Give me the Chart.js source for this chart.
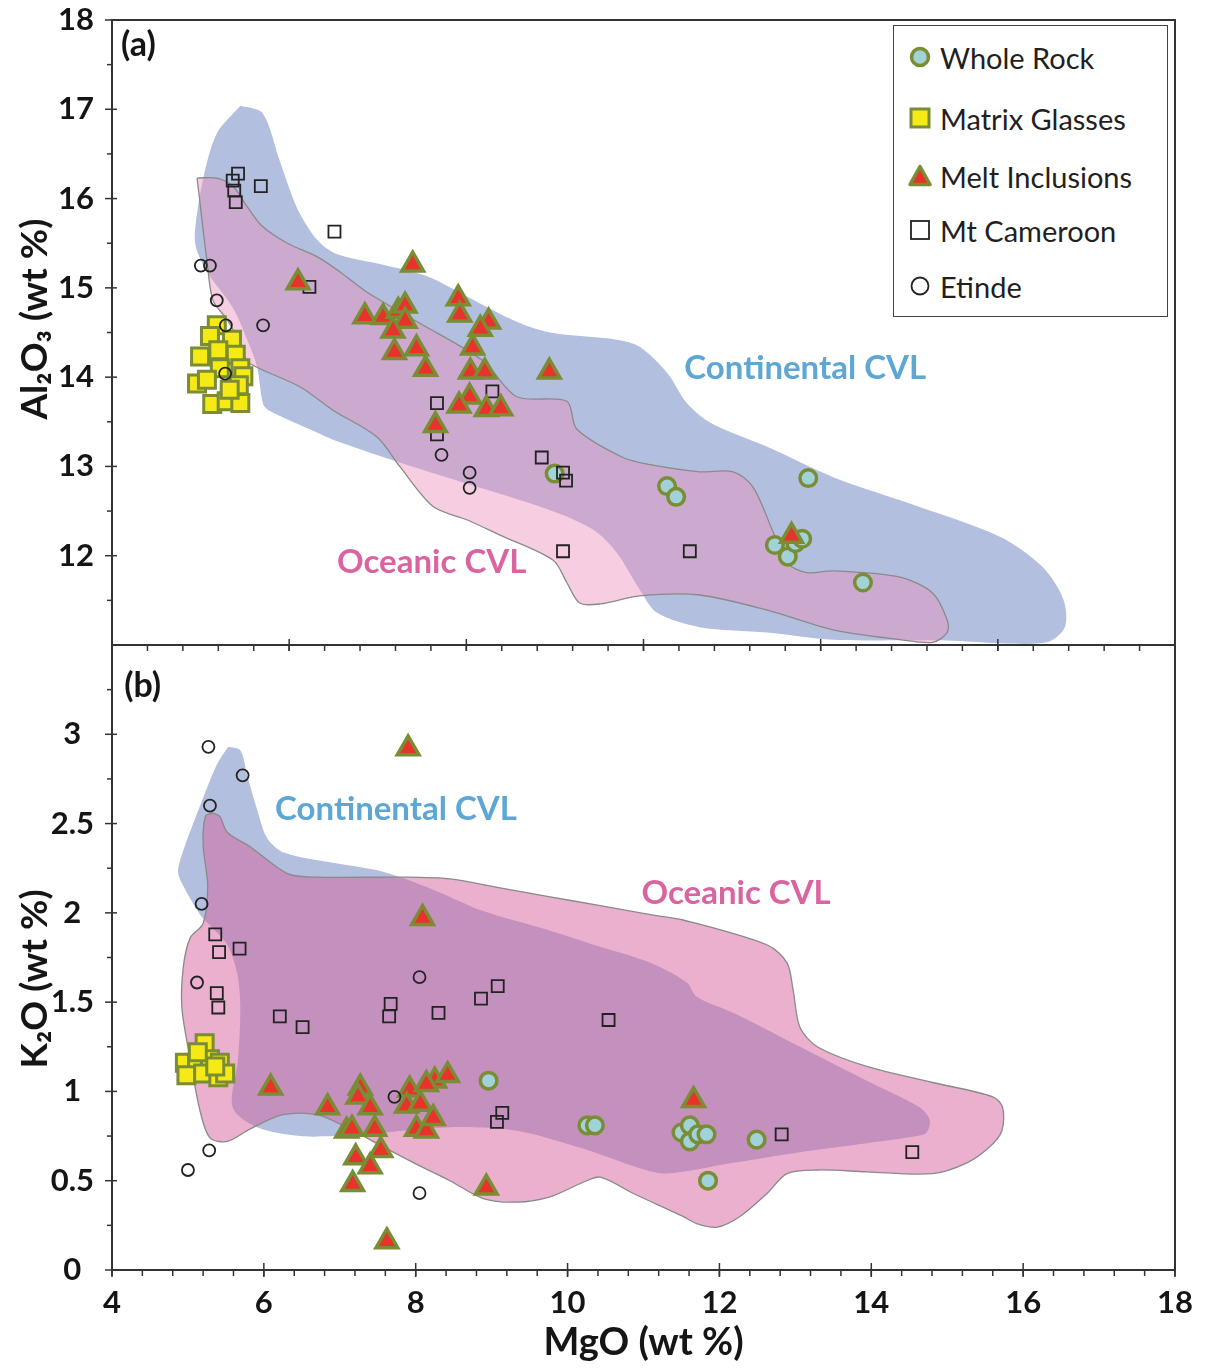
<!DOCTYPE html>
<html>
<head>
<meta charset="utf-8">
<title>MgO variation diagrams</title>
<script src="https://cdn.jsdelivr.net/npm/chart.js@4.4.1/dist/chart.umd.min.js"></script>
<style>
  body { margin: 0; background: #fff; }
  #wrap { position: relative; width: 1210px; height: 1369px; overflow: hidden; font-family: Lato, 'Open Sans', sans-serif; }
  canvas { position: absolute; left: 0; }
  #topChart { top: 0; }
  #bottomChart { top: 600px; }
  #legend { position: absolute; left: 893px; top: 25px; width: 273px; height: 290px; border: 1.5px solid #444; background: #fff; }
  .item { position: absolute; left: 0; height: 40px; display: flex; align-items: center; font-size: 29px; color: #231f20; white-space: nowrap; }
  .item svg { margin-left: 14px; margin-right: 8px; }
</style>
</head>
<body>
<div id="wrap">
  <canvas id="topChart" width="1210" height="700"></canvas>
  <canvas id="bottomChart" width="1210" height="769"></canvas>
  <div id="legend"></div>
</div>
<script>
// ---- panel (a): MgO vs Al2O3 (wt %) ----
const wholeRockA = [[9.83,12.92],[11.31,12.78],[11.43,12.66],[13.17,12.87],[12.73,12.12],[12.90,11.99],[13.00,12.14],[13.09,12.19],[13.89,11.70]];
const matrixGlassA = [[5.38,14.58],[5.29,14.46],[5.58,14.42],[5.16,14.23],[5.40,14.30],[5.63,14.25],[5.42,14.10],[5.69,14.10],[5.73,14.01],[5.12,13.93],[5.25,13.97],[5.67,13.91],[5.32,13.70],[5.51,13.73],[5.69,13.71],[5.55,13.86]];
const meltInclA = [[7.96,15.26],[6.45,15.06],[7.33,14.68],[7.57,14.67],[7.77,14.74],[7.86,14.80],[7.86,14.63],[7.70,14.52],[7.72,14.28],[8.01,14.32],[8.13,14.09],[8.56,14.88],[8.58,14.70],[8.96,14.62],[8.85,14.54],[8.75,14.33],[8.72,14.06],[8.91,14.06],[8.71,13.78],[8.57,13.68],[8.93,13.64],[9.12,13.65],[8.26,13.46],[9.76,14.06],[12.95,12.22]];
const mtCameroonA = [[5.66,16.28],[5.59,16.20],[5.61,16.09],[5.63,15.96],[5.96,16.14],[6.93,15.63],[6.60,15.01],[8.28,13.71],[8.28,13.36],[9.01,13.84],[9.66,13.10],[9.94,12.93],[9.98,12.84],[9.94,12.05],[11.61,12.05]];
const etindeA = [[5.17,15.25],[5.29,15.25],[5.38,14.86],[5.50,14.58],[5.99,14.58],[5.49,14.04],[8.34,13.13],[8.71,12.93],[8.71,12.76]];
const continentalA = [[5.69,17.04],[5.98,16.96],[6.21,16.42],[6.44,15.89],[6.70,15.54],[6.96,15.38],[7.57,15.26],[8.15,15.13],[8.68,14.90],[9.33,14.62],[9.77,14.50],[10.65,14.42],[10.95,14.34],[11.31,14.05],[11.57,13.71],[11.88,13.49],[12.63,13.22],[13.50,12.88],[14.38,12.62],[15.70,12.21],[16.26,11.87],[16.53,11.51],[16.55,11.20],[16.31,11.03],[15.70,11.02],[15.00,11.05],[13.50,11.06],[12.63,11.14],[11.74,11.20],[11.18,11.36],[10.95,11.62],[10.65,12.03],[10.34,12.29],[9.77,12.51],[8.70,12.80],[7.70,13.07],[6.91,13.30],[6.70,13.38],[6.08,13.62],[5.99,13.70],[5.91,14.12],[5.78,14.42],[5.59,14.78],[5.29,15.13],[5.12,15.41],[5.09,15.61],[5.20,16.22],[5.38,16.73]];
const oceanicA = [[5.12,16.23],[5.38,16.23],[5.59,16.14],[5.78,15.91],[5.98,15.69],[6.31,15.50],[6.70,15.35],[7.00,15.18],[7.36,14.95],[8.02,14.62],[8.89,14.18],[9.33,13.78],[9.99,13.73],[10.12,13.42],[10.73,13.10],[11.09,13.02],[11.74,12.94],[12.18,12.94],[12.44,12.77],[12.71,12.26],[12.89,11.92],[13.15,11.81],[13.50,11.83],[14.38,11.76],[14.81,11.58],[15.00,11.28],[15.00,11.14],[14.81,11.03],[14.38,11.06],[13.50,11.17],[12.63,11.39],[11.74,11.56],[10.95,11.55],[10.43,11.46],[10.16,11.47],[9.99,11.70],[9.81,11.95],[9.11,12.23],[8.68,12.40],[8.23,12.55],[7.79,13.00],[7.49,13.33],[6.91,13.63],[6.48,13.89],[5.78,14.17],[5.73,14.30],[5.52,14.64],[5.33,14.86],[5.25,15.31],[5.20,15.65],[5.15,16.02]];

// ---- panel (b): MgO vs K2O (wt %) ----
const wholeRockB = [[8.96,1.06],[10.26,0.81],[10.36,0.81],[11.50,0.77],[11.61,0.81],[11.61,0.72],[11.72,0.76],[11.83,0.76],[12.49,0.73],[11.85,0.50]];
const matrixGlassB = [[5.22,1.27],[4.96,1.16],[5.12,1.16],[5.29,1.18],[5.42,1.16],[4.98,1.09],[5.20,1.10],[5.40,1.08],[5.49,1.10],[5.36,1.14],[5.13,1.22]];
const meltInclB = [[7.90,2.92],[8.09,1.97],[6.09,1.02],[6.84,0.91],[7.27,1.02],[7.24,0.97],[7.40,0.91],[7.09,0.78],[7.16,0.79],[7.46,0.79],[7.21,0.63],[7.54,0.67],[7.40,0.58],[7.17,0.48],[7.62,0.16],[7.92,1.01],[7.88,0.92],[8.06,0.93],[8.01,0.79],[8.14,0.78],[8.23,0.85],[8.25,1.06],[8.14,1.04],[8.42,1.09],[8.93,0.46],[11.66,0.95]];
const mtCameroonB = [[5.36,1.88],[5.41,1.78],[5.68,1.80],[5.38,1.55],[5.40,1.47],[6.21,1.42],[6.51,1.36],[7.67,1.49],[7.65,1.42],[8.30,1.44],[8.86,1.52],[9.08,1.59],[10.54,1.40],[9.14,0.88],[9.07,0.83],[12.82,0.76],[14.54,0.66]];
const etindeB = [[5.27,2.93],[5.72,2.77],[5.29,2.60],[5.18,2.05],[5.12,1.61],[8.05,1.64],[7.72,0.97],[5.28,0.67],[5.00,0.56],[8.05,0.43]];
const continentalB = [[5.53,2.93],[5.69,2.91],[5.78,2.77],[5.91,2.58],[6.04,2.42],[6.25,2.34],[6.91,2.28],[7.57,2.23],[8.23,2.13],[8.89,2.01],[9.77,1.90],[10.43,1.81],[11.09,1.72],[11.57,1.61],[11.70,1.53],[12.18,1.44],[13.06,1.25],[13.94,1.06],[14.64,0.91],[14.77,0.84],[14.73,0.77],[14.60,0.75],[13.94,0.71],[13.06,0.66],[12.18,0.60],[11.31,0.54],[10.95,0.57],[10.20,0.68],[9.33,0.78],[8.45,0.80],[7.31,0.76],[6.91,0.75],[6.48,0.75],[5.91,0.80],[5.59,0.91],[5.66,1.18],[5.69,1.47],[5.65,1.66],[5.52,1.82],[5.29,1.93],[5.16,1.99],[4.94,2.15],[4.87,2.23],[4.94,2.35],[5.16,2.60],[5.38,2.83]];
const oceanicB = [[5.33,2.56],[5.42,2.54],[5.52,2.45],[5.82,2.37],[6.31,2.22],[6.70,2.20],[7.79,2.20],[8.45,2.19],[9.11,2.14],[9.77,2.09],[10.43,2.04],[11.09,1.99],[11.52,1.96],[12.63,1.82],[12.89,1.72],[12.97,1.57],[13.06,1.36],[13.29,1.25],[13.94,1.14],[14.81,1.05],[15.60,0.97],[15.73,0.91],[15.72,0.78],[15.56,0.69],[15.26,0.60],[14.81,0.54],[13.94,0.55],[13.29,0.56],[12.89,0.54],[12.63,0.43],[12.27,0.30],[11.97,0.24],[11.70,0.26],[11.52,0.30],[10.86,0.43],[10.43,0.52],[10.20,0.49],[9.77,0.41],[9.33,0.38],[8.89,0.40],[8.45,0.50],[8.02,0.59],[7.57,0.69],[7.13,0.79],[6.70,0.87],[6.25,0.87],[5.82,0.79],[5.52,0.72],[5.29,0.74],[5.16,0.89],[5.03,1.18],[4.92,1.47],[4.94,1.70],[5.03,1.86],[5.20,1.94],[5.26,2.15],[5.20,2.38],[5.23,2.54]];

// tick labels
const mgoTicks = [4, 6, 8, 10, 12, 14, 16, 18];
const al2o3Ticks = [12, 13, 14, 15, 16, 17, 18];
const k2oTicks = [0, 0.5, 1, 1.5, 2, 2.5, 3];

Chart.defaults.font.family = 'Lato, "Open Sans", sans-serif';
Chart.defaults.color = '#151515';

const olive = '#7a8c34';
const markerStyles = {
  wholeRock: { label: 'Whole Rock', pointStyle: 'circle', pointRadius: 8.3, backgroundColor: '#a0d2d8', borderColor: olive, borderWidth: 3.5, order: 4 },
  matrixGlass: { label: 'Matrix Glasses', pointStyle: 'rect', pointRadius: 12, backgroundColor: '#f6ea16', borderColor: olive, borderWidth: 3, order: 5 },
  meltIncl: { label: 'Melt Inclusions', pointStyle: 'triangle', pointRadius: 12.5, backgroundColor: '#e8322b', borderColor: olive, borderWidth: 3.5, order: 2 },
  mtCameroon: { label: 'Mt Cameroon', pointStyle: 'rect', pointRadius: 8.5, backgroundColor: 'rgba(0,0,0,0)', borderColor: '#222', borderWidth: 1.8, order: 3 },
  etinde: { label: 'Etinde', pointStyle: 'circle', pointRadius: 6, backgroundColor: 'rgba(0,0,0,0)', borderColor: '#222', borderWidth: 1.8, order: 1 }
};

function toXY(pts) {
  return pts.map(p => ({ x: p[0], y: p[1] }));
}

function pointSet(kind, pts) {
  return Object.assign({ data: toXY(pts), pointHoverRadius: markerStyles[kind].pointRadius }, markerStyles[kind]);
}

// closed outline drawn as a filled, smoothed line
function regionSet(pts, fillColor, edgeColor, order) {
  return {
    type: 'line',
    data: toXY(pts.concat([pts[0]])),
    backgroundColor: fillColor,
    borderColor: edgeColor || 'rgba(0,0,0,0)',
    borderWidth: edgeColor ? 1.3 : 1,
    fill: 'shape',
    tension: 0.3,
    pointRadius: 0,
    order: order
  };
}

function steps(from, to, step) {
  const out = [];
  for (let v = from; v <= to + 1e-9; v += step) out.push(+v.toFixed(4));
  return out;
}

// frame around the plot area plus hand-sized tick marks
function frameTicks(marks) {
  return {
    id: 'frameTicks',
    afterDraw(chart) {
      const { ctx, chartArea: a, scales } = chart;
      ctx.save();
      ctx.strokeStyle = '#333';
      ctx.lineWidth = 1.5;
      marks.forEach(m => {
        m.values.forEach(v => {
          ctx.beginPath();
          if (m.axis === 'x') {
            const px = scales.x.getPixelForValue(v);
            ctx.moveTo(px, a.bottom - m.inner);
            ctx.lineTo(px, a.bottom + m.outer);
          } else {
            const py = scales.y.getPixelForValue(v);
            ctx.moveTo(a.left - m.outer, py);
            ctx.lineTo(a.left + m.inner, py);
          }
          ctx.stroke();
        });
      });
      ctx.lineWidth = 2;
      ctx.strokeRect(a.left, a.top, a.right - a.left, a.bottom - a.top);
      ctx.restore();
    }
  };
}

// text labels placed in data coordinates (rotated ones are the y titles)
function notes(items) {
  return {
    id: 'notes',
    afterDatasetsDraw(chart) {
      const { ctx, scales } = chart;
      items.forEach(n => {
        ctx.save();
        ctx.font = n.font;
        ctx.fillStyle = n.color;
        ctx.textAlign = n.align;
        ctx.textBaseline = 'middle';
        ctx.translate(scales.x.getPixelForValue(n.x), scales.y.getPixelForValue(n.y));
        if (n.rotate) ctx.rotate(-Math.PI / 2);
        ctx.fillText(n.text, 0, 0);
        ctx.restore();
      });
    }
  };
}

const tickFont = { size: 31, weight: 'bold' };
const blueText = '#5ea7d5';
const pinkText = '#da64a0';
const ink = '#151515';

function yScale(min, max, ticks) {
  return {
    type: 'linear', min: min, max: max,
    grid: { display: false }, border: { display: false },
    ticks: { font: tickFont, padding: 10, crossAlign: 'center', callback: v => String(v) },
    afterBuildTicks: s => { s.ticks = ticks.map(v => ({ value: v })); },
    // fixed axis width, and no extra room reserved for the end labels
    afterFit: s => { s.width = 112; s.paddingTop = 0; s.paddingBottom = 0; }
  };
}

function baseOptions(padTop, xScale, yScaleCfg) {
  return {
    responsive: false, animation: false, devicePixelRatio: 1, events: [],
    layout: { autoPadding: false, padding: { top: padTop, right: 35, left: 0, bottom: 0 } },
    plugins: { legend: { display: false }, tooltip: { enabled: false } },
    scales: { x: xScale, y: yScaleCfg }
  };
}

// ---- top chart ----
new Chart(document.getElementById('topChart'), {
  type: 'scatter',
  data: {
    datasets: [
      pointSet('etinde', etindeA),
      pointSet('meltIncl', meltInclA),
      pointSet('mtCameroon', mtCameroonA),
      pointSet('wholeRock', wholeRockA),
      pointSet('matrixGlass', matrixGlassA),
      regionSet(oceanicA, 'rgba(235,145,189,0.45)', '#8a8a8a', 19),
      regionSet(continentalA, '#b3bfdf', null, 20)
    ]
  },
  options: baseOptions(20, {
    type: 'linear', min: 4, max: 18,
    grid: { display: false }, border: { display: false },
    ticks: { display: false },
    afterFit: s => { s.height = 55; s.paddingLeft = 0; s.paddingRight = 0; }
  }, yScale(11, 18, al2o3Ticks)),
  plugins: [
    frameTicks([
      { axis: 'y', values: steps(11.5, 17.5, 1), outer: 5, inner: 0 },
      { axis: 'y', values: al2o3Ticks, outer: 7, inner: 5 },
      { axis: 'x', values: steps(4, 18, 14 / 30), outer: 6, inner: 0 },
      { axis: 'x', values: steps(4, 18, 14 / 6), outer: 6, inner: 6 }
    ]),
    notes([
      { text: 'Al₂O₃ (wt %)', x: 2.99, y: 14.65, align: 'center', font: 'bold 37px Lato', color: ink, rotate: true },
      { text: '(a)', x: 4.12, y: 17.72, align: 'left', font: 'bold 34px Lato', color: ink },
      { text: 'Continental CVL', x: 13.13, y: 14.10, align: 'center', font: 'bold 33px Lato', color: blueText },
      { text: 'Oceanic CVL', x: 8.21, y: 11.92, align: 'center', font: 'bold 33px Lato', color: pinkText }
    ])
  ]
});

// ---- bottom chart ----
new Chart(document.getElementById('bottomChart'), {
  type: 'scatter',
  data: {
    datasets: [
      pointSet('etinde', etindeB),
      pointSet('meltIncl', meltInclB),
      pointSet('mtCameroon', mtCameroonB),
      pointSet('wholeRock', wholeRockB),
      pointSet('matrixGlass', matrixGlassB),
      regionSet(oceanicB, 'rgba(213,97,155,0.5)', '#8a8a8a', 19),
      regionSet(continentalB, '#b3bfdf', null, 20)
    ]
  },
  options: baseOptions(45, {
    type: 'linear', min: 4, max: 18,
    grid: { display: false }, border: { display: false },
    ticks: { font: tickFont, padding: 6, maxRotation: 0, autoSkip: false, callback: v => String(v) },
    afterBuildTicks: s => { s.ticks = mgoTicks.map(v => ({ value: v })); },
    afterFit: s => { s.height = 99; s.paddingLeft = 0; s.paddingRight = 0; },
    title: { display: true, text: 'MgO (wt %)', font: { size: 38, weight: 'bold' }, color: ink, padding: { top: 0, bottom: 3 } }
  }, yScale(0, 3.5, k2oTicks)),
  plugins: [
    frameTicks([
      { axis: 'y', values: steps(0.25, 3.25, 0.5), outer: 5, inner: 0 },
      { axis: 'y', values: k2oTicks, outer: 7, inner: 5 },
      { axis: 'x', values: steps(4, 18, 0.4), outer: 6, inner: 0 },
      { axis: 'x', values: mgoTicks, outer: 7, inner: 7 }
    ]),
    notes([
      { text: 'K₂O (wt %)', x: 2.99, y: 1.63, align: 'center', font: 'bold 37px Lato', color: ink, rotate: true },
      { text: '(b)', x: 4.16, y: 3.27, align: 'left', font: 'bold 34px Lato', color: ink },
      { text: 'Continental CVL', x: 7.74, y: 2.58, align: 'center', font: 'bold 33px Lato', color: blueText },
      { text: 'Oceanic CVL', x: 12.22, y: 2.11, align: 'center', font: 'bold 33px Lato', color: pinkText }
    ])
  ]
});

// ---- legend box ----
function markerSvg(s) {
  const paint = `fill="${s.backgroundColor}" stroke="${s.borderColor}" stroke-width="${s.borderWidth}"`;
  let shape;
  if (s.pointStyle === 'circle') shape = `<circle cx="12" cy="12" r="8.5" ${paint}/>`;
  else if (s.pointStyle === 'rect') shape = `<rect x="3" y="3" width="18" height="18" ${paint}/>`;
  else shape = `<polygon points="12,2.5 22,20.5 2,20.5" stroke-linejoin="round" ${paint}/>`;
  return `<svg width="24" height="24" viewBox="0 0 24 24">${shape}</svg>`;
}

const legendRows = [['wholeRock', 31], ['matrixGlass', 92], ['meltIncl', 150], ['mtCameroon', 204], ['etinde', 260]];
const legendBox = document.getElementById('legend');
legendRows.forEach(([kind, centerY]) => {
  const row = document.createElement('div');
  row.className = 'item';
  row.style.top = (centerY - 20) + 'px';
  row.innerHTML = markerSvg(markerStyles[kind]) + '<span>' + markerStyles[kind].label + '</span>';
  legendBox.appendChild(row);
});
</script>
</body>
</html>
